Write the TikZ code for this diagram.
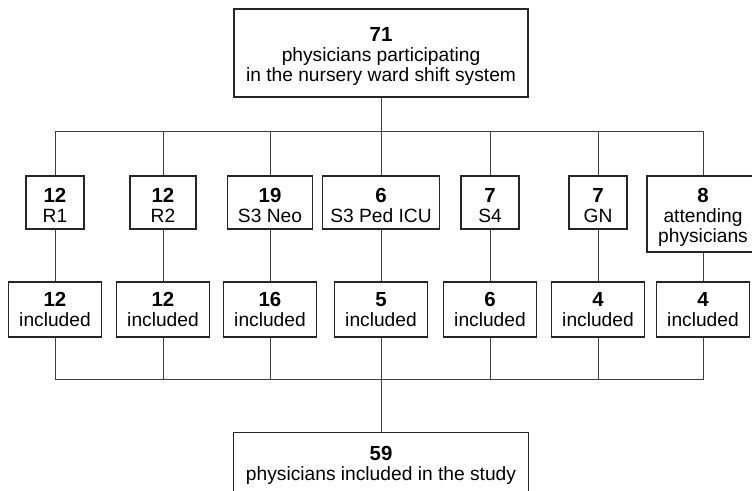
\documentclass[tikz,border=0pt]{standalone}
\usepackage{fontspec}
\setmainfont{Liberation Sans}
\newcommand{\upad}{\rule{0pt}{20pt}}
\newcommand{\numb}[1]{{\fontsize{20.4}{20}\selectfont\bfseries #1}}
\begin{document}
\begin{tikzpicture}[x=1pt,y=-1pt,
  box/.style={draw=black!85, line width=1.2pt, align=center, inner sep=0pt,
    font=\fontsize{19.2}{20}\selectfont},
  midbox/.style={box, minimum height=53},
  incbox/.style={box, minimum width=93, minimum height=55},
  conn/.style={draw=black!75, line width=0.9pt}]
\useasboundingbox (0,0) rectangle (752,490);
% top
\node[box, minimum width=294, minimum height=88] (top) at (381,53)
  {\upad\numb{71}\\physicians participating\\in the nursery ward shift system};
\coordinate (split) at (381,131);
% middle row
\node[midbox, minimum width=58]  (m1) at (55,202.5)  {\upad\numb{12}\\R1};
\node[midbox, minimum width=66]  (m2) at (163,202.5) {\upad\numb{12}\\R2};
\node[midbox, minimum width=85]  (m3) at (270,202.5) {\upad\numb{19}\\S3 Neo};
\node[midbox, minimum width=117] (m4) at (381,202.5) {\upad\numb{6}\\S3 Ped ICU};
\node[midbox, minimum width=58]  (m5) at (490,202.5) {\upad\numb{7}\\S4};
\node[midbox, minimum width=58]  (m6) at (598,202.5) {\upad\numb{7}\\GN};
\node[box, minimum width=112, minimum height=76] (m7) at (703,214)
  {\upad\numb{8}\\attending\\physicians};
% bottom row
\node[incbox] (b1) at (55,309.5)  {\numb{12}\\included};
\node[incbox] (b2) at (163,309.5) {\numb{12}\\included};
\node[incbox] (b3) at (270,309.5) {\numb{16}\\included};
\node[incbox] (b4) at (381,309.5) {\numb{5}\\included};
\node[incbox] (b5) at (490,309.5) {\numb{6}\\included};
\node[incbox] (b6) at (598,309.5) {\numb{4}\\included};
\node[incbox] (b7) at (703,309.5) {\numb{4}\\included};
\coordinate (join) at (381,379);
% final
\node[box, minimum width=295, minimum height=66, anchor=north] (fin) at (381,432)
  {\numb{59}\\physicians included in the study};
% connectors
\draw[conn] (top.south) -- (split);
\foreach \i in {1,...,7} {
  \draw[conn] (split) -| (m\i.north);
  \draw[conn] (m\i.south) -- (b\i.north);
  \draw[conn] (b\i.south) |- (join);
}
\draw[conn] (join) -- (fin.north);
\end{tikzpicture}
\end{document}
